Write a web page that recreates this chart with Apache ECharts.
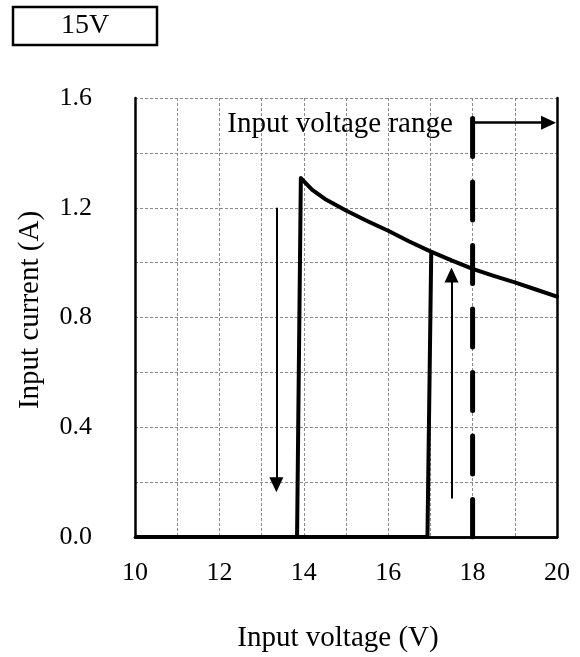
<!DOCTYPE html>
<html>
<head>
<meta charset="utf-8">
<script src="https://cdn.jsdelivr.net/npm/echarts@6/dist/echarts.min.js"></script>
<style>
html,body{margin:0;padding:0;background:#fff;}
#c{width:580px;height:657px;}
</style>
</head>
<body>
<div id="c"></div>
<script>
// Data (x: input voltage V, y: input current A)
const riseCurve = [[13.84,0],[13.93,1.308],[14.2,1.265],[14.5,1.232],[15,1.19],[15.5,1.152],[16,1.116],[16.5,1.077],[17,1.041],[17.5,1.008],[18,0.977],[18.5,0.952],[19,0.928],[19.5,0.902],[20,0.876]];
const startCurve = [[10,0],[16.93,0],[17.02,1.04]];
const rangeLine = [[18,1.525],[18,0]];
const rangeArrow = [[18,1.51],[19.8,1.51]];
const downArrow = [[13.35,1.2],[13.35,0.19]];
const upArrow = [[17.5,0.14],[17.5,0.955]];
const rangeLabelPos = [14.86,1.505];
const xTicks = [10,12,14,16,18,20];
const yTicks = ['0.0','0.4','0.8','1.2','1.6'];

const FONT = '"Liberation Serif","Times New Roman",serif';
const chart = echarts.init(document.getElementById('c'));

function arrowML(pts, w){
  return {
    silent:true,
    symbol:['none','triangle'],
    symbolSize:[14,15],
    lineStyle:{color:'#000',width:w,type:'solid'},
    label:{show:false},
    data:[[{coord:pts[0]},{coord:pts[1]}]]
  };
}
const frame = {show:true,lineStyle:{color:'#000',width:2.5}};
const grid = {color:'#8a8a8a',width:1,type:[3,2]};

chart.setOption({
  animation:false,
  backgroundColor:'#fff',
  grid:{left:135,right:23,top:98,bottom:120},
  xAxis:[{
    type:'value',min:10,max:20,interval:1,position:'bottom',
    axisLine:frame,axisTick:{show:false},
    splitLine:{show:true,lineStyle:grid},
    axisLabel:{margin:23,color:'#000',fontFamily:FONT,fontSize:26,
      formatter:v=> xTicks.indexOf(v)>=0 ? String(v) : ''}
  },{
    type:'value',min:10,max:20,position:'top',
    axisLine:frame,axisTick:{show:false},splitLine:{show:false},axisLabel:{show:false}
  }],
  yAxis:[{
    type:'value',min:0,max:1.6,interval:0.2,position:'left',
    axisLine:frame,axisTick:{show:false},
    splitLine:{show:true,lineStyle:grid},
    axisLabel:{margin:43,color:'#000',fontFamily:FONT,fontSize:26,
      formatter:v=>{const s=v.toFixed(1);return yTicks.indexOf(s)>=0?s:'';}}
  },{
    type:'value',min:0,max:1.6,position:'right',
    axisLine:frame,axisTick:{show:false},splitLine:{show:false},axisLabel:{show:false}
  }],
  series:[
    {type:'line',data:riseCurve,showSymbol:false,symbol:'none',lineStyle:{color:'#000',width:4,cap:'round',join:'round'},z:5},
    {type:'line',data:startCurve,showSymbol:false,symbol:'none',lineStyle:{color:'#000',width:4,cap:'butt',join:'round'},z:5},
    {type:'line',data:rangeLine,showSymbol:false,symbol:'none',lineStyle:{color:'#000',width:5,type:[38,25.5],cap:'round'},z:4,
      markLine:arrowML(rangeArrow,2.5)},
    {type:'line',data:[],symbol:'none',markLine:arrowML(downArrow,2)},
    {type:'line',data:[],symbol:'none',markLine:arrowML(upArrow,2)}
  ]
});
const lp = chart.convertToPixel({gridIndex:0}, rangeLabelPos);
chart.setOption({
  graphic:[
    {type:'rect',x:13,y:7,shape:{width:144,height:38},style:{fill:'#fff',stroke:'#000',lineWidth:2.5}},
    {type:'text',x:85,y:26,style:{text:'15V',fill:'#000',fontFamily:FONT,fontSize:28,align:'center',verticalAlign:'middle'}},
    {type:'text',x:lp[0],y:lp[1],z:10,style:{text:'Input voltage range',fill:'#000',fontFamily:FONT,fontSize:29,align:'center',verticalAlign:'middle'}},
    {type:'text',x:338,y:638,style:{text:'Input voltage (V)',fill:'#000',fontFamily:FONT,fontSize:29,align:'center',verticalAlign:'middle'}},
    {type:'text',x:30,y:310,rotation:Math.PI/2,style:{text:'Input current (A)',fill:'#000',fontFamily:FONT,fontSize:29,align:'center',verticalAlign:'middle'}}
  ]
});
</script>
</body>
</html>
